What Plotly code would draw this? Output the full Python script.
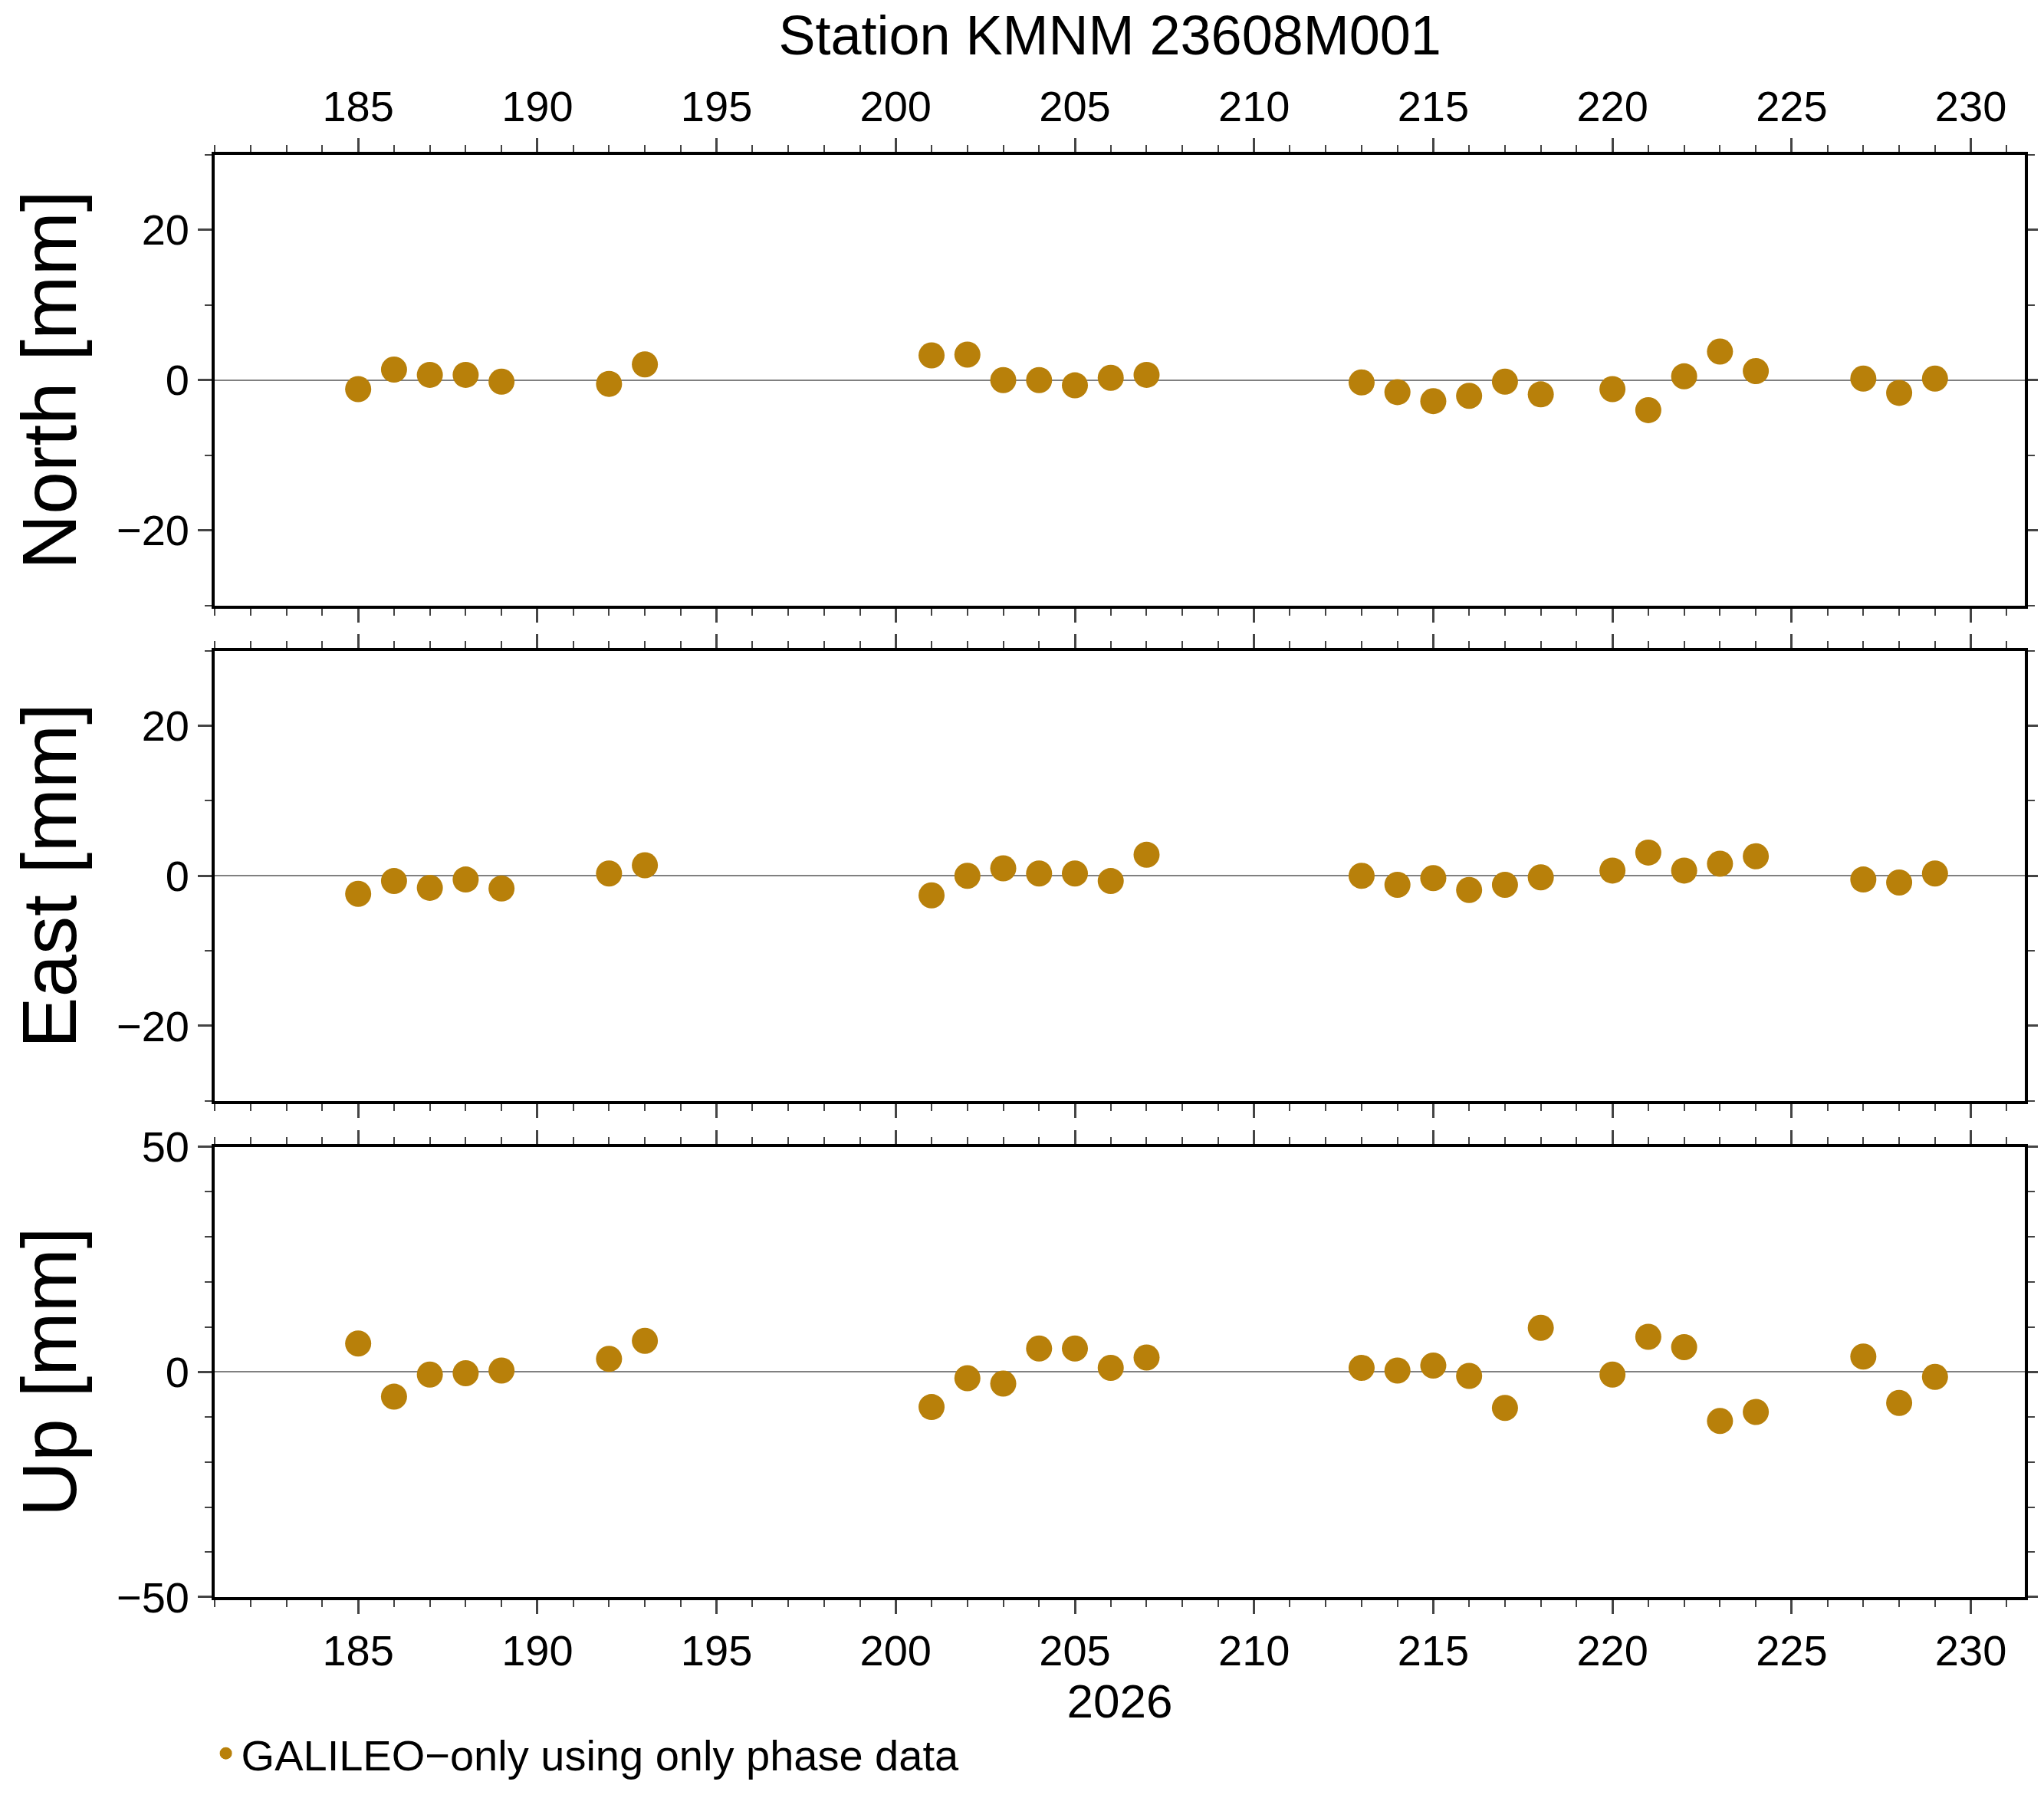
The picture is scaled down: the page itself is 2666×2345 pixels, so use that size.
import plotly.graph_objects as go

days = [185, 186, 187, 188, 189, 192, 193, 201, 202, 203, 204, 205, 206, 207,
        213, 214, 215, 216, 217, 218, 220, 221, 222, 223, 224, 227, 228, 229]
north = [-1.2, 1.4, 0.7, 0.7, -0.2, -0.5, 2.1, 3.3, 3.4, 0.0, 0.0, -0.7, 0.3, 0.7,
         -0.3, -1.6, -2.8, -2.1, -0.2, -1.9, -1.2, -4.0, 0.5, 3.8, 1.2, 0.2, -1.7, 0.2]
east = [-2.4, -0.7, -1.6, -0.5, -1.7, 0.3, 1.4, -2.6, 0.0, 1.0, 0.3, 0.3, -0.7, 2.8,
        0.0, -1.2, -0.3, -1.9, -1.2, -0.2, 0.7, 3.1, 0.7, 1.6, 2.6, -0.5, -0.9, 0.3]
up = [6.3, -5.5, -0.6, -0.3, 0.3, 2.9, 6.9, -7.8, -1.4, -2.6, 5.2, 5.2, 0.9, 3.2,
      0.9, 0.3, 1.4, -0.9, -8.0, 9.8, -0.6, 7.8, 5.5, -10.9, -8.9, 3.4, -6.9, -1.1]

color = "#b8800a"
font = "Liberation Sans, Arial, sans-serif"

fig = go.Figure()
panels = [("North [mm]", north, [0.6711, 0.9286], 30, 20),
          ("East [mm]", east, [0.3879, 0.6452], 30, 20),
          ("Up [mm]", up, [0.1043, 0.3617], 50, 50)]

for i, (name, vals, dom, lim, dt) in enumerate(panels):
    n = "" if i == 0 else str(i + 1)
    fig.add_trace(go.Scatter(x=days, y=vals, mode="markers", xaxis="x" + n, yaxis="y" + n,
                             marker=dict(color=color, size=34),
                             name="GALILEO\u2212only using only phase data",
                             showlegend=(i == 0)))
    side = "top" if i == 0 else "bottom"
    fig.layout["xaxis" + n] = dict(
        domain=[0.1021, 0.9875], range=[181.0, 231.5], anchor="y" + n, side=side,
        dtick=5, tick0=185, ticks="outside", ticklen=18, tickwidth=3,
        showticklabels=(i != 1), mirror="allticks", showline=True, linewidth=4,
        linecolor="black", showgrid=False, zeroline=False,
        minor=dict(dtick=1, ticks="outside", ticklen=9, tickwidth=2),
        tickfont=dict(size=56, color="black"),
        title=dict(text="2026", font=dict(size=62), standoff=4) if i == 2 else None)
    fig.layout["yaxis" + n] = dict(
        domain=dom, range=[-lim, lim], anchor="x" + n, dtick=dt,
        ticks="outside", ticklen=18, tickwidth=3, mirror="allticks", showline=True,
        linewidth=4, linecolor="black", showgrid=False,
        zeroline=True, zerolinecolor="gray", zerolinewidth=1.5,
        minor=dict(dtick=10, ticks="outside", ticklen=9, tickwidth=2),
        tickfont=dict(size=56, color="black"),
        title=dict(text=name, font=dict(size=100), standoff=20))

fig.update_layout(
    width=2666, height=2345, plot_bgcolor="white", paper_bgcolor="white",
    font=dict(family=font, color="black"),
    margin=dict(l=0, r=0, t=0, b=0),
    title=dict(text="Station KMNM 23608M001", x=0.54, xanchor="center",
               y=0.984, yanchor="middle", font=dict(size=72)),
    legend=dict(x=0.10, y=0.015, xanchor="left", yanchor="middle",
                font=dict(size=56), bgcolor="rgba(0,0,0,0)"),
)

fig.write_html("out.html")
